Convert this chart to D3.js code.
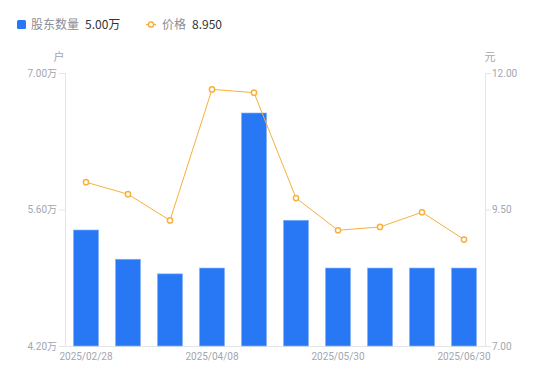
<!DOCTYPE html>
<html>
<head>
<meta charset="utf-8">
<script src="https://cdn.jsdelivr.net/npm/d3@7"></script>
<style>
  body { margin: 0; background: #fff; font-family: "Noto Sans CJK SC", "Noto Sans", sans-serif; }
</style>
</head>
<body>
<div id="chart"></div>
<script>
// --------------------------------------------------
// chart data

let dates = ['2025/02/28', '2025/03/10', '2025/03/20', '2025/04/08', '2025/04/18',
             '2025/04/30', '2025/05/30', '2025/06/10', '2025/06/20', '2025/06/30'];
let holders = [5.39, 5.09, 4.94, 5.00, 6.59, 5.49, 5.00, 5.00, 5.00, 5.00]; // 万户
let prices = [10.00, 9.78, 9.30, 11.70, 11.64, 9.71, 9.12, 9.18, 9.45, 8.95]; // 元
let leftTicks = [4.2, 5.6, 7.0];
let rightTicks = [7.0, 9.5, 12.0];
let shownDates = ['2025/02/28', '2025/04/08', '2025/05/30', '2025/06/30'];

// --------------------------------------------------

let width = 550, height = 381;
let m = { left: 65, right: 65, top: 73, bottom: 35 };
let blue = '#2878f5', orange = '#f8b03c', gray = '#a3a6b0', axisColor = '#e3e5ea';

let svg = d3.select('#chart').append('svg')
  .attr('width', width)
  .attr('height', height);

let x = d3.scaleBand()
  .domain(dates)
  .range([m.left, width - m.right])
  .paddingInner(0.4)
  .paddingOuter(0.2);

let yl = d3.scaleLinear().domain([4.2, 7.0]).range([height - m.bottom, m.top]);
let yr = d3.scaleLinear().domain([7.0, 12.0]).range([height - m.bottom, m.top]);

// axes
let leftAxis = svg.append('g')
  .attr('transform', `translate(${m.left},0)`)
  .call(d3.axisLeft(yl).tickValues(leftTicks).tickSize(6).tickPadding(2)
    .tickFormat(d => d3.format('.2f')(d) + '万'));

let rightAxis = svg.append('g')
  .attr('transform', `translate(${width - m.right},0)`)
  .call(d3.axisRight(yr).tickValues(rightTicks).tickSize(6).tickPadding(1)
    .tickFormat(d3.format('.2f')));

let bottomAxis = svg.append('g')
  .attr('transform', `translate(0,${height - m.bottom})`)
  .call(d3.axisBottom(x).tickValues(shownDates).tickSize(0).tickPadding(7));

[leftAxis, rightAxis, bottomAxis].forEach(function (g)
{
  g.select('.domain').attr('stroke', axisColor);
  g.selectAll('.tick line').attr('stroke', axisColor);
  g.selectAll('.tick text')
    .attr('fill', gray)
    .style('font-family', 'Roboto, "Noto Sans CJK SC", sans-serif')
    .style('font-size', '10px');
});

// axis titles
svg.append('text')
  .attr('x', 59).attr('y', 61)
  .attr('text-anchor', 'middle')
  .attr('fill', gray)
  .style('font-size', '11px')
  .text('户');

svg.append('text')
  .attr('x', 490).attr('y', 61)
  .attr('text-anchor', 'middle')
  .attr('fill', gray)
  .style('font-size', '11px')
  .text('元');

// bars
svg.append('g')
  .selectAll('rect')
  .data(holders)
  .join('rect')
  .attr('x', (d, i) => x(dates[i]))
  .attr('y', d => yl(d))
  .attr('width', x.bandwidth())
  .attr('height', d => yl(4.2) - yl(d))
  .attr('fill', blue)
  .attr('stroke', '#8db8fa')
  .attr('stroke-width', 0.6);

// price line
let line = d3.line()
  .x((d, i) => x(dates[i]) + x.bandwidth() / 2)
  .y(d => yr(d));

svg.append('path')
  .datum(prices)
  .attr('d', line)
  .attr('fill', 'none')
  .attr('stroke', orange)
  .attr('stroke-width', 1);

svg.append('g')
  .selectAll('circle')
  .data(prices)
  .join('circle')
  .attr('cx', (d, i) => x(dates[i]) + x.bandwidth() / 2)
  .attr('cy', d => yr(d))
  .attr('r', 2.6)
  .attr('fill', '#fff')
  .attr('stroke', orange)
  .attr('stroke-width', 1.5);

// legend
let legend = svg.append('g');

legend.append('rect')
  .attr('x', 17).attr('y', 20)
  .attr('width', 9).attr('height', 9)
  .attr('rx', 1.5)
  .attr('fill', blue);

legend.append('text')
  .attr('x', 31).attr('y', 29)
  .attr('fill', '#8a8d96')
  .style('font-size', '12px')
  .text('股东数量');

legend.append('text')
  .attr('x', 85).attr('y', 29)
  .attr('fill', '#333')
  .style('font-size', '12px')
  .text('5.00万');

legend.append('line')
  .attr('x1', 146).attr('x2', 156)
  .attr('y1', 24.5).attr('y2', 24.5)
  .attr('stroke', orange)
  .attr('stroke-width', 1.2);

legend.append('circle')
  .attr('cx', 151).attr('cy', 24.5)
  .attr('r', 2.6)
  .attr('fill', '#fff')
  .attr('stroke', orange)
  .attr('stroke-width', 1.5);

legend.append('text')
  .attr('x', 162).attr('y', 29)
  .attr('fill', '#8a8d96')
  .style('font-size', '12px')
  .text('价格');

legend.append('text')
  .attr('x', 192).attr('y', 29)
  .attr('fill', '#333')
  .style('font-size', '12px')
  .text('8.950');
</script>
</body>
</html>
